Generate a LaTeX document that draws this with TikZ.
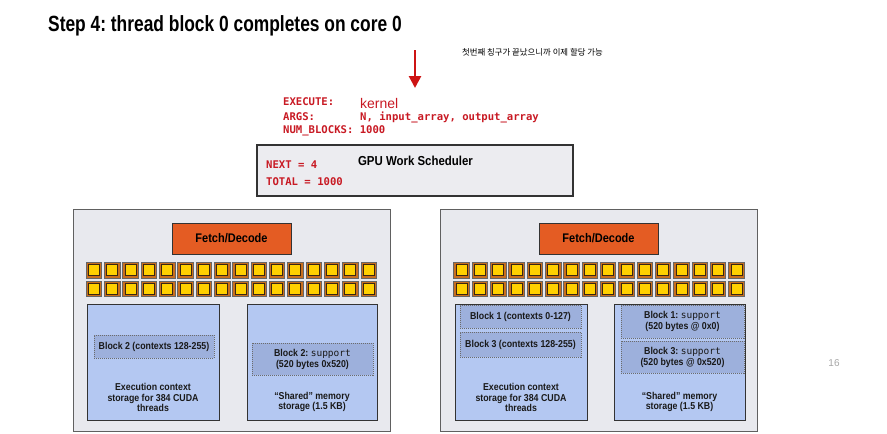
\documentclass[tikz,border=0pt]{standalone}
\usepackage{fontspec}
\setmainfont{Liberation Sans}
\newfontfamily\condfont[FakeStretch=0.88]{Liberation Sans}
\newfontfamily\titlefont[FakeStretch=0.79]{Liberation Sans}
\newfontfamily\codefont{DejaVu Sans Mono}
\newfontfamily\krfont{Noto Sans CJK KR}
\usetikzlibrary{arrows.meta}
\frenchspacing

\definecolor{codered}{RGB}{200,25,35}
\definecolor{arrowred}{RGB}{205,20,20}
\definecolor{coregray}{RGB}{232,233,238}
\definecolor{schedgray}{RGB}{236,236,240}
\definecolor{fetchorange}{RGB}{228,92,35}
\definecolor{aluorange}{RGB}{200,110,30}
\definecolor{aluyellow}{RGB}{255,208,0}
\definecolor{storeblue}{RGB}{180,200,242}
\definecolor{blockblue}{RGB}{157,176,220}

\tikzset{
  core/.style={draw=gray!75!black,fill=coregray,line width=0.9pt,inner sep=0pt},
  sched/.style={draw=black!80,fill=schedgray,line width=1.6pt,inner sep=0pt},
  fetch/.style={draw=black!80,fill=fetchorange,line width=0.8pt,inner sep=0pt,
    font=\condfont\bfseries\fontsize{12.5}{14}\selectfont},
  alu/.style={draw=black!60,fill=aluorange,line width=0.4pt,minimum size=15.5pt,inner sep=0pt},
  alucore/.style={draw=black!70!brown,fill=aluyellow,line width=0.5pt,minimum size=11pt,inner sep=0pt},
  store/.style={draw=black!80,fill=storeblue,line width=0.8pt,inner sep=0pt},
  blk/.style={draw=gray!85!black,fill=blockblue,densely dotted,line width=1pt,inner sep=0pt,
    align=center,font=\condfont\bfseries\fontsize{10}{11}\selectfont,text=black!90},
  lbl/.style={align=center,font=\condfont\bfseries\fontsize{10}{10.8}\selectfont,text=black!90},
  code/.style={anchor=west,inner sep=0pt,text=codered,font=\codefont\bfseries\fontsize{10.6}{12}\selectfont}
}

\begin{document}
\begin{tikzpicture}[x=1pt,y=-1pt]
\useasboundingbox (0,0) rectangle (887,434);

% title and note
\node[anchor=base west,inner sep=0pt,font=\titlefont\bfseries\fontsize{22}{24}\selectfont] (title) at (48,31) {Step 4: thread block 0 completes on core 0};
\node[inner sep=0pt,font=\krfont\fontsize{8.4}{10}\selectfont] (note) at (532.5,52) {첫번째 칭구가 끝났으니까 이제 할당 가능};

% launch arrow
\coordinate (arrowtop) at (415,50);
\coordinate (arrowtip) at (415,88);
\draw[arrowred,line width=2.6pt,-{Triangle[width=12pt,length=12pt]}] (arrowtop) -- (arrowtip);

% kernel launch command
\node[code] (exec) at (283,102) {EXECUTE:};
\node[anchor=west,inner sep=0pt,text=codered,font=\fontsize{14}{16}\selectfont] (kernel) at (360,103) {kernel};
\node[code] (args) at (283,117) {ARGS:};
\node[code] (argvals) at (360,117) {N, input\_array, output\_array};
\node[code] (nblocks) at (283,131) {NUM\_BLOCKS: 1000};

% work scheduler
\node[sched,minimum width=316pt,minimum height=51pt] (sched) at (415,170.5) {};
\node[inner sep=0pt,font=\condfont\bfseries\fontsize{13}{15}\selectfont] (schedlbl) at (415.5,161) {GPU Work Scheduler};
\node[code] (next) at (266,165) {NEXT = 4};
\node[code] (total) at (266,181.5) {TOTAL = 1000};

% core 0
\node[core,minimum width=317pt,minimum height=222pt] (core0) at (231.5,320) {};
\node[fetch,minimum width=119pt,minimum height=31pt] (fetch0) at (231.5,238.5) {Fetch/Decode};

% core 1
\node[core,minimum width=317pt,minimum height=222pt] (core1) at (598.5,320) {};
\node[fetch,minimum width=119pt,minimum height=31pt] (fetch1) at (598.5,238.5) {Fetch/Decode};

% ALUs
\foreach \c in {0,...,15}{
  \foreach \r/\yy in {0/270,1/288.7}{
    \node[alu] (aluA-\r-\c) at ({93.8+18.31*\c},\yy) {};
    \node[alucore] at (aluA-\r-\c) {};
    \node[alu] (aluB-\r-\c) at ({461.3+18.33*\c},\yy) {};
    \node[alucore] at (aluB-\r-\c) {};
  }
}

% storage, core 0
\node[store,minimum width=132pt,minimum height=116pt] (ctx0) at (153,362) {};
\node[store,minimum width=130pt,minimum height=116pt] (smem0) at (312,362) {};
\node[blk,minimum width=120pt,minimum height=23pt] (b2ctx) at (154,346.5) {Block 2 (contexts 128-255)};
\node[blk,minimum width=121pt,minimum height=32pt] (b2sup) at (312.5,359) {Block 2: {\codefont\mdseries\fontsize{9.5}{11}\selectfont support}\\(520 bytes 0x520)};
\node[lbl] (ctx0lbl) at (153,397.5) {Execution context\\storage for 384 CUDA\\threads};
\node[lbl] (smem0lbl) at (312,402) {“Shared” memory\\storage (1.5 KB)};

% storage, core 1
\node[store,minimum width=132pt,minimum height=116pt] (ctx1) at (521,362) {};
\node[store,minimum width=131pt,minimum height=116pt] (smem1) at (679.5,362) {};
\node[blk,minimum width=121pt,minimum height=23pt] (b1ctx) at (520.5,316.5) {Block 1 (contexts 0-127)};
\node[blk,minimum width=121pt,minimum height=25pt] (b3ctx) at (520.5,344.5) {Block 3 (contexts 128-255)};
\node[blk,minimum width=123pt,minimum height=33pt] (b1sup) at (682.5,321.5) {Block 1: {\codefont\mdseries\fontsize{9.5}{11}\selectfont support}\\(520 bytes @ 0x0)};
\node[blk,minimum width=123pt,minimum height=32pt] (b3sup) at (682.5,357) {Block 3: {\codefont\mdseries\fontsize{9.5}{11}\selectfont support}\\(520 bytes @ 0x520)};
\node[lbl] (ctx1lbl) at (521,397.5) {Execution context\\storage for 384 CUDA\\threads};
\node[lbl] (smem1lbl) at (679.5,402) {“Shared” memory\\storage (1.5 KB)};

% slide number
\node[inner sep=0pt,text=gray!70,font=\fontsize{10}{12}\selectfont] (pagenum) at (834,363) {16};
\end{tikzpicture}
\end{document}
